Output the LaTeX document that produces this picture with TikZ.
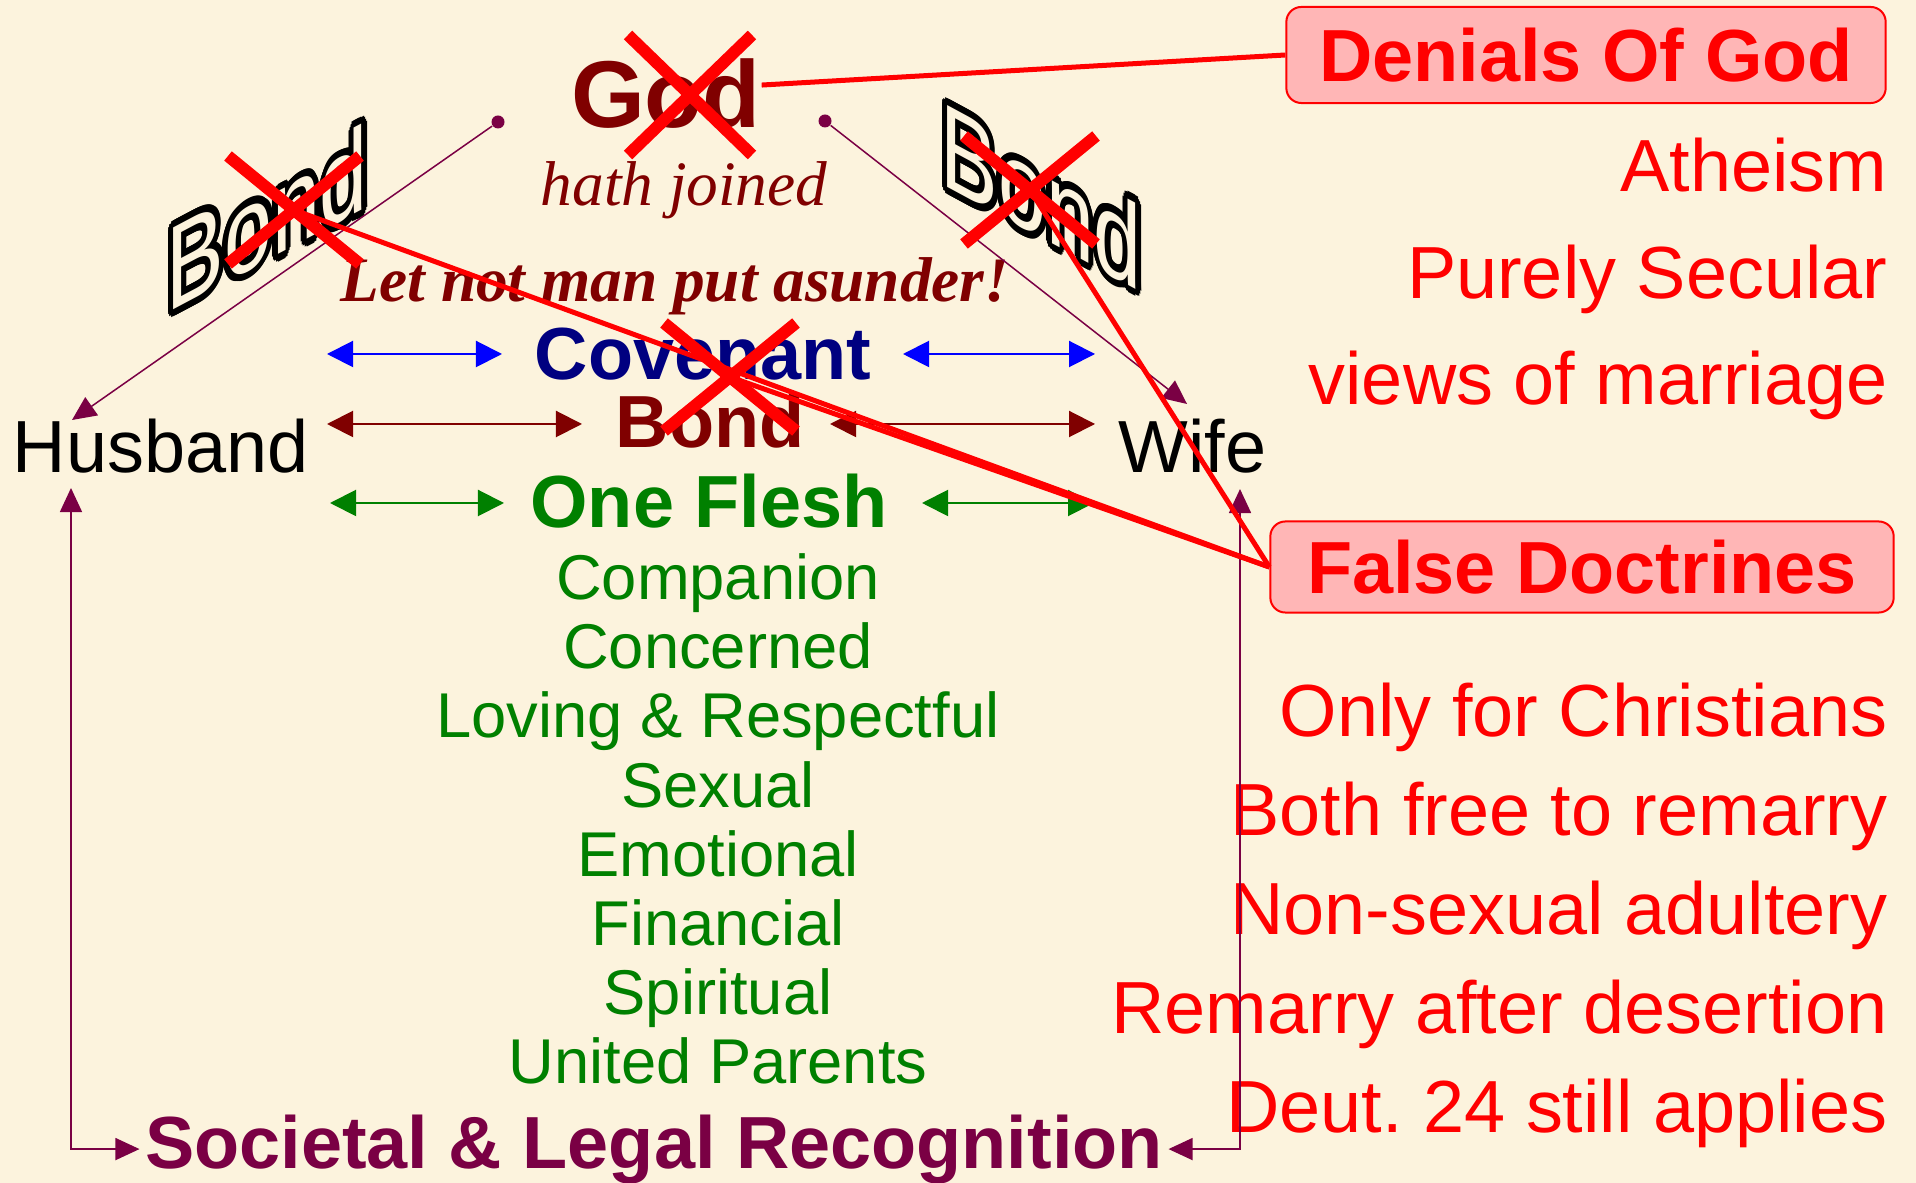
\documentclass[tikz,border=0pt]{standalone}
\usepackage{fontspec}
\setmainfont{Liberation Sans}
\newfontfamily\timesfont{Liberation Serif}
\usepackage{xcolor}
\usepackage{contour}
\contourlength{1.5pt}
\usetikzlibrary{arrows.meta}

\definecolor{paper}{RGB}{252,243,221}
\definecolor{darkred}{RGB}{128,0,0}
\definecolor{covblue}{RGB}{0,0,128}
\definecolor{arrblue}{RGB}{0,0,255}
\definecolor{leaf}{RGB}{0,128,0}
\definecolor{plum}{RGB}{122,0,68}
\definecolor{pinkfill}{RGB}{255,182,182}

\tikzset{
  txt/.style={inner sep=0pt, anchor=base},
  big/.style={font=\fontsize{21}{25}\selectfont},
  bigb/.style={font=\fontsize{21}{25}\selectfont\bfseries},
  listtxt/.style={font=\fontsize{18}{22}\selectfont},
  redbox/.style={draw=red, line width=0.02cm, fill=pinkfill, rounded corners=0.15cm,
    text=red, font=\fontsize{21}{25}\selectfont\bfseries, inner sep=0pt},
  dot/.style={circle, fill=plum, inner sep=0pt, minimum size=0.13cm},
  plumline/.style={plum, line width=0.015cm},
  plumtip/.style={-{Triangle[length=0.24cm, width=0.22cm]}},
  dblarrow/.style={line width=0.02cm,
    {Triangle[length=0.26cm, width=0.26cm]}-{Triangle[length=0.26cm, width=0.26cm]}},
  redline/.style={red, line width=0.05cm},
  crossline/.style={red, line width=0.12cm},
  slanted/.style={inner sep=0pt, anchor=base west, font=\fontsize{24.5}{28}\selectfont}
}

\begin{document}
\begin{tikzpicture}[x=0.01cm, y=-0.01cm]
  % Background
  \fill[paper] (0,0) rectangle (1916,1183);
  \useasboundingbox (0,0) rectangle (1916,1183);

  % Slanted word-art bonds
  \node[slanted, yslant=0.53, yscale=1.38] (bondl) at (166,314)
    {\contour{black}{\textcolor{paper}{Bond}}};
  \node[slanted, yslant=-0.54, yscale=1.38] (bondr) at (940,183)
    {\contour{black}{\textcolor{paper}{Bond}}};

  % Centre column
  \node[txt, darkred, font=\fontsize{27}{30}\selectfont\bfseries] (god) at (666,128) {God};
  \node[txt, darkred, font=\timesfont\itshape\fontsize{18}{22}\selectfont] (joined) at (684,206) {hath joined};
  \node[txt, darkred, font=\timesfont\bfseries\itshape\fontsize{18}{22}\selectfont] (asunder) at (675,302) {Let not man put asunder!};
  \node[txt, bigb, covblue] (covenant) at (703,380) {Covenant};
  \node[txt, bigb, darkred] (bondmid) at (710,448) {Bond};
  \node[txt, bigb, leaf] (flesh) at (709,528) {One Flesh};
  \foreach \lbl [count=\i] in {Companion, Concerned, Loving \& Respectful, Sexual,
      Emotional, Financial, Spiritual, United Parents}
    \node[txt, listtxt, leaf] (item\i) at (718,{600+69*(\i-1)}) {\lbl};

  % Spouses and recognition
  \node[txt, big, anchor=base west] (husband) at (12,473) {Husband};
  \node[txt, big, anchor=base west] (wife) at (1118,473) {Wife};
  \node[txt, bigb, plum, inner sep=0.05cm] (soc) at (654,1168) {Societal \& Legal Recognition};

  % Right column
  \node[redbox, minimum width=5.99cm, minimum height=0.96cm] (denials) at (1586,55) {Denials Of God};
  \foreach \lbl [count=\i] in {Atheism, Purely Secular, views of marriage}
    \node[txt, big, red, anchor=base east] (denial\i) at (1888,{192+106.5*(\i-1)}) {\lbl};
  \node[redbox, minimum width=6.23cm, minimum height=0.91cm] (falsedoc) at (1582,567) {False Doctrines};
  \foreach \lbl [count=\i] in {Only for Christians, Both free to remarry, Non-sexual adultery,
      Remarry after desertion, Deut.\ 24 still applies}
    \node[txt, big, red, anchor=base east] (doctrine\i) at (1888,{737+98.8*(\i-1)}) {\lbl};

  % Joining lines
  \node[dot] (dotl) at (498,122) {};
  \node[dot] (dotr) at (825,121) {};
  \coordinate (htop) at (72,420);
  \coordinate (wtop) at (1187,404);
  \coordinate (hbot) at (71,488);
  \coordinate (wbot) at (1240,489);
  \draw[plumline, plumtip] (dotl) -- (htop);
  \draw[plumline, plumtip] (dotr) -- (wtop);
  \draw[plumline, {Triangle[length=0.24cm, width=0.22cm]}-{Triangle[length=0.24cm, width=0.22cm]}]
    (hbot) |- (soc.west);
  \draw[plumline, {Triangle[length=0.24cm, width=0.22cm]}-{Triangle[length=0.24cm, width=0.22cm]}]
    (wbot) |- (soc.east);

  % Double arrows
  \foreach \row/\col/\yy/\xa/\xb/\xc/\xd in {cov/arrblue/354/327/502/903/1095,
      bnd/darkred/424/327/582/830/1095, fl/leaf/503/330/504/922/1094} {
    \coordinate (\row-a) at (\xa,\yy);
    \coordinate (\row-b) at (\xb,\yy);
    \coordinate (\row-c) at (\xc,\yy);
    \coordinate (\row-d) at (\xd,\yy);
    \draw[dblarrow, \col] (\row-a) -- (\row-b);
    \draw[dblarrow, \col] (\row-c) -- (\row-d);
  }

  % Crosses
  \foreach \nm/\cx/\cy/\hw/\hh in {xgod/690/95/62/60, xleft/294/210/66/54,
      xmid/730/377/66/54, xright/1030/190/66/54} {
    \coordinate (\nm) at (\cx,\cy);
    \draw[crossline] (\cx-\hw,\cy-\hh) -- (\cx+\hw,\cy+\hh)
      (\cx+\hw,\cy-\hh) -- (\cx-\hw,\cy+\hh);
  }

  % Red connectors
  \draw[redline] ([yshift=0.09cm]god.east) -- (denials.west);
  \draw[redline] (xleft) -- (falsedoc.west);
  \draw[redline] (xmid) -- (falsedoc.west);
  \draw[redline] (xright) -- (falsedoc.west);
\end{tikzpicture}
\end{document}
